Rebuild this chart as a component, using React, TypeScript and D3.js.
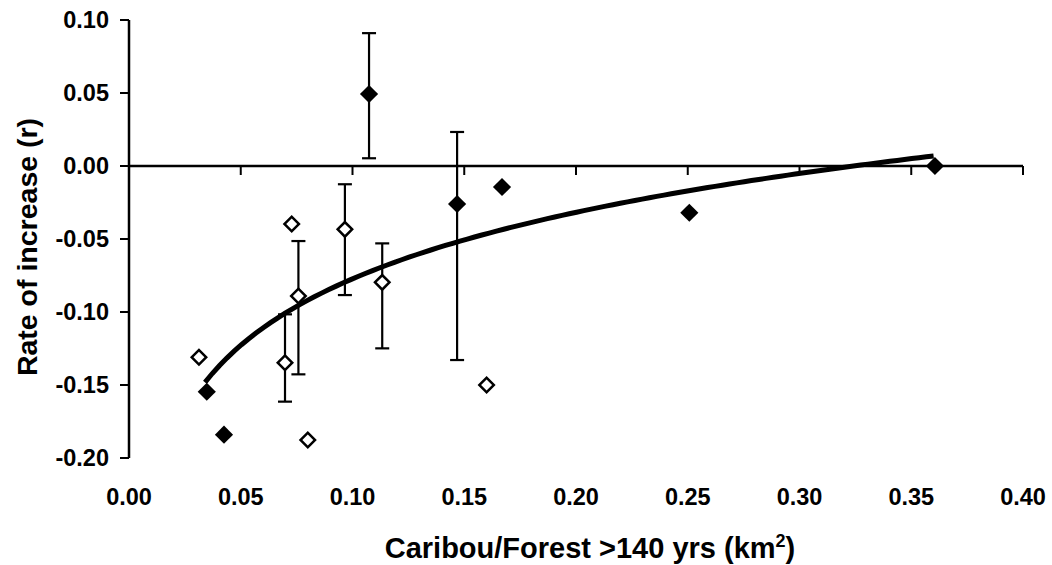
import * as d3 from 'd3'

// filled diamonds (with optional error bars)
const filledX = [0.1074, 0.0348, 0.0425, 0.1468, 0.1669, 0.2507, 0.3606]
const filledY = [0.0493, -0.1546, -0.184, -0.026, -0.0144, -0.032, 0.0]
const filledLo = [0.0053, null, null, -0.1329, null, null, null]
const filledHi = [0.091, null, null, 0.0233, null, null, null]

// open diamonds
const openX = [0.0313, 0.0698, 0.0728, 0.0758, 0.080, 0.0966, 0.1133, 0.160]
const openY = [-0.131, -0.1347, -0.0397, -0.089, -0.1877, -0.0434, -0.0797, -0.150]
const openLo = [null, -0.1614, null, -0.1427, null, -0.0884, -0.1249, null]
const openHi = [null, -0.1016, null, -0.0514, null, -0.0125, -0.053, null]

// logarithmic trend line y = a ln(x) + b
const trendA = 0.0657
const trendB = 0.074
const trendFrom = 0.034
const trendTo = 0.36

const xTicks = [0, 0.05, 0.1, 0.15, 0.2, 0.25, 0.3, 0.35, 0.4]
const yTicks = [0.1, 0.05, 0, -0.05, -0.1, -0.15, -0.2]

const font = '"Liberation Sans", Arial, sans-serif'
const fmt = (v: number) => d3.format('.2f')(v).replace('\u2212', '-')

export default function App() {
  const x = d3.scaleLinear().domain([0, 0.4]).range([129, 1023])
  const y = d3.scaleLinear().domain([-0.2, 0.1]).range([458, 20])

  const sq = (s: number) => d3.symbol().type(d3.symbolSquare).size(s)()
  const filledPath = sq(165)
  const openPath = sq(105)

  const steps = d3.range(0, 101)
  const trendPts = steps.map(i => {
    const xv = trendFrom + (trendTo - trendFrom) * i / 100
    return [xv, trendA * Math.log(xv) + trendB] as [number, number]
  })
  const line = d3.line().x(d => x(d[0])).y(d => y(d[1]))

  const errBar = (xv: number, lo: number | null, hi: number | null, key: string) => {
    if (lo == null || hi == null) return null
    const cx = x(xv)
    return (
      <g key={key} stroke="#000" strokeWidth={2.2}>
        <line x1={cx} x2={cx} y1={y(hi)} y2={y(lo)} />
        <line x1={cx - 7} x2={cx + 7} y1={y(hi)} y2={y(hi)} />
        <line x1={cx - 7} x2={cx + 7} y1={y(lo)} y2={y(lo)} />
      </g>
    )
  }

  return (
    <svg width={1052} height={565} style={{ position: 'absolute', left: 0, top: 0, background: '#fff' }}>
      {/* y axis */}
      <line x1={x(0)} x2={x(0)} y1={y(0.1)} y2={y(-0.2)} stroke="#000" strokeWidth={2.5} />
      {yTicks.map(t => (
        <g key={'yt' + t}>
          <line x1={x(0) - 9} x2={x(0)} y1={y(t)} y2={y(t)} stroke="#000" strokeWidth={2} />
          <text x={109} y={y(t)} dy="0.35em" textAnchor="end" fontFamily={font} fontWeight="bold" fontSize={23.5}>
            {fmt(t)}
          </text>
        </g>
      ))}
      {/* x axis at y = 0 */}
      <line x1={x(0)} x2={x(0.4)} y1={y(0)} y2={y(0)} stroke="#000" strokeWidth={2.5} />
      {xTicks.map(t => (
        <g key={'xt' + t}>
          <line x1={x(t)} x2={x(t)} y1={y(0)} y2={y(0) + 9} stroke="#000" strokeWidth={2} />
          <text x={x(t)} y={497} dy="0.35em" textAnchor="middle" fontFamily={font} fontWeight="bold" fontSize={23.5}>
            {fmt(t)}
          </text>
        </g>
      ))}

      {/* error bars */}
      {filledX.map((v, i) => errBar(v, filledLo[i], filledHi[i], 'fe' + i))}
      {openX.map((v, i) => errBar(v, openLo[i], openHi[i], 'oe' + i))}

      {/* trend line */}
      <path d={line(trendPts) || ''} fill="none" stroke="#000" strokeWidth={5} />

      {/* markers */}
      {openX.map((v, i) => (
        <path key={'o' + i} d={openPath || ''} transform={`translate(${x(v)},${y(openY[i])}) rotate(45)`}
          fill="#fff" stroke="#000" strokeWidth={2.5} />
      ))}
      {filledX.map((v, i) => (
        <path key={'f' + i} d={filledPath || ''} transform={`translate(${x(v)},${y(filledY[i])}) rotate(45)`}
          fill="#000" />
      ))}

      {/* axis titles */}
      <text transform="translate(37,247) rotate(-90)" textAnchor="middle" fontFamily={font} fontWeight="bold" fontSize={28.5}>
        Rate of increase (r)
      </text>
      <text x={590} y={558} textAnchor="middle" fontFamily={font} fontWeight="bold" fontSize={29}>
        Caribou/Forest &gt;140 yrs (km<tspan dy={-11} fontSize={18}>2</tspan><tspan dy={11}>)</tspan>
      </text>
    </svg>
  )
}
